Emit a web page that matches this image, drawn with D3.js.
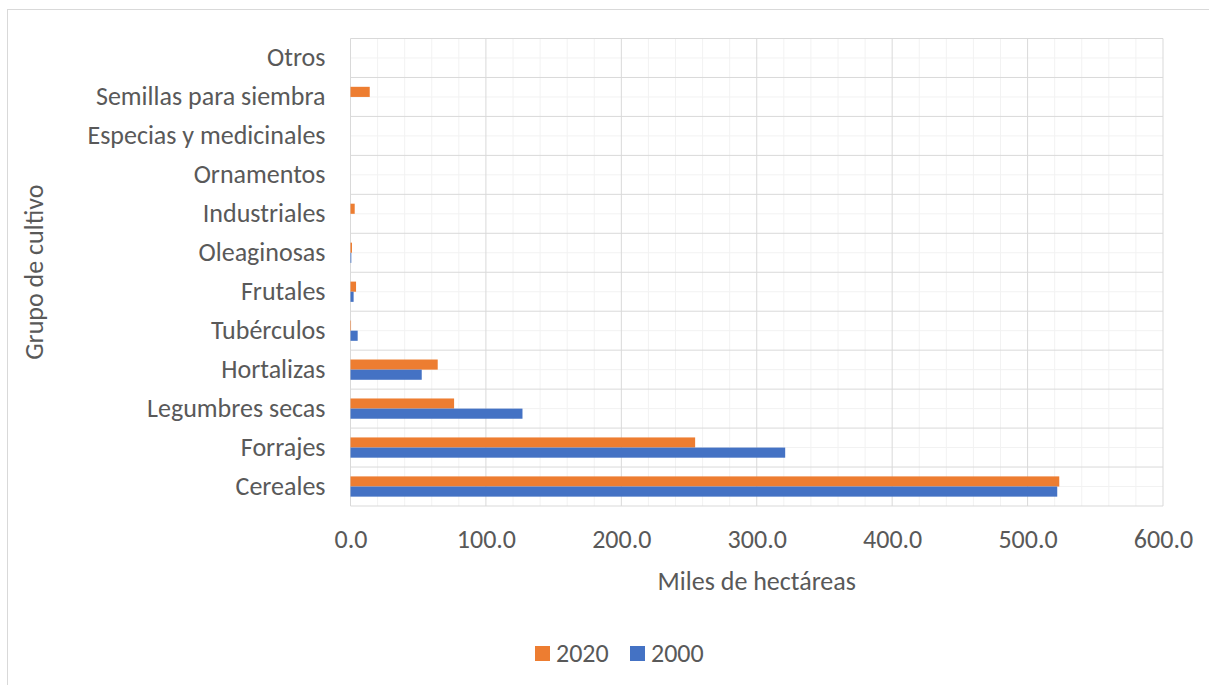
<!DOCTYPE html>
<html>
<head>
<meta charset="utf-8">
<script src="https://cdn.jsdelivr.net/npm/d3@7"></script>
<style>
  body { margin: 0; background: #fff; }
  svg { display: block; }
  svg text { font-family: Calibri, Carlito, Lato, "Open Sans", sans-serif; }
</style>
</head>
<body>
<script>
"use strict";

// categories listed bottom -> top as in the picture
const categories = [
  "Cereales", "Forrajes", "Legumbres secas", "Hortalizas", "Tubérculos",
  "Frutales", "Oleaginosas", "Industriales", "Ornamentos",
  "Especias y medicinales", "Semillas para siembra", "Otros"
];
const values2020 = [523.4, 254.5, 76.5, 64.4, 0.4, 4.1, 1.1, 3.1, 0, 0, 14.2, 0];
const values2000 = [521.9, 321.0, 127.0, 52.6, 5.3, 2.3, 0.6, 0, 0, 0, 0, 0];
const xTicks = [0, 100, 200, 300, 400, 500, 600];
const seriesNames = ["2020", "2000"];
const seriesColors = ["#ed7d31", "#4472c4"];

const width = 1209;
const height = 685;
const margin = { top: 38.5, right: 46, bottom: 179, left: 350.5 };
const fontSize = 26;
const textColor = "#595959";

const svg = d3.select("body").append("svg")
  .attr("width", width)
  .attr("height", height);

// chart frame
svg.append("rect")
  .attr("x", 7.5).attr("y", 9.5)
  .attr("width", width + 10).attr("height", height + 10)
  .attr("fill", "none")
  .attr("stroke", "#d9d9d9");

const x = d3.scaleLinear()
  .domain([0, 600])
  .range([margin.left, width - margin.right]);

// top category first in the domain so it sits at the top
const y = d3.scaleBand()
  .domain(categories.slice().reverse())
  .range([margin.top, height - margin.bottom]);

const bw = y.bandwidth();
const barH = bw * 0.26;

// minor gridlines
const grid = svg.append("g");
grid.selectAll("line.vminor")
  .data(d3.range(0, 601, 20).filter((v) => v % 100 !== 0))
  .join("line")
  .attr("x1", (d) => x(d)).attr("x2", (d) => x(d))
  .attr("y1", margin.top).attr("y2", height - margin.bottom)
  .attr("stroke", "#f2f2f2").attr("stroke-width", 1);

grid.selectAll("line.hminor")
  .data(categories)
  .join("line")
  .attr("x1", x(0)).attr("x2", x(600))
  .attr("y1", (d) => y(d) + bw / 2).attr("y2", (d) => y(d) + bw / 2)
  .attr("stroke", "#f2f2f2").attr("stroke-width", 1);

// major gridlines
grid.append("g").selectAll("line")
  .data(xTicks)
  .join("line")
  .attr("x1", (d) => x(d)).attr("x2", (d) => x(d))
  .attr("y1", margin.top).attr("y2", height - margin.bottom)
  .attr("stroke", "#d9d9d9").attr("stroke-width", 1);

grid.append("g").selectAll("line")
  .data(d3.range(categories.length + 1))
  .join("line")
  .attr("x1", x(0)).attr("x2", x(600))
  .attr("y1", (i) => margin.top + i * bw).attr("y2", (i) => margin.top + i * bw)
  .attr("stroke", "#d9d9d9").attr("stroke-width", 1);

// bars
const center = (c) => y(c) + bw / 2;

svg.append("g").selectAll("rect")
  .data(categories.map((c, i) => ({ c, v: values2020[i] })))
  .join("rect")
  .attr("x", x(0))
  .attr("y", (d) => center(d.c) - barH)
  .attr("width", (d) => x(d.v) - x(0))
  .attr("height", barH)
  .attr("fill", seriesColors[0]);

svg.append("g").selectAll("rect")
  .data(categories.map((c, i) => ({ c, v: values2000[i] })))
  .join("rect")
  .attr("x", x(0))
  .attr("y", (d) => center(d.c))
  .attr("width", (d) => x(d.v) - x(0))
  .attr("height", barH)
  .attr("fill", seriesColors[1]);

// axes
const xAxis = svg.append("g")
  .attr("transform", `translate(0,${height - margin.bottom})`)
  .call(d3.axisBottom(x).tickValues(xTicks).tickFormat(d3.format(".1f")).tickSize(0).tickPadding(24));
xAxis.select(".domain").remove();
xAxis.attr("font-size", fontSize).attr("font-family", null);
xAxis.selectAll("text").attr("fill", textColor);

const yAxis = svg.append("g")
  .attr("transform", `translate(${margin.left},0)`)
  .call(d3.axisLeft(y).tickSize(0).tickPadding(25));
yAxis.select(".domain").remove();
yAxis.attr("font-size", fontSize).attr("font-family", null);
yAxis.selectAll("text").attr("fill", textColor);

// axis titles
svg.append("text")
  .attr("x", (x(0) + x(600)) / 2)
  .attr("y", 590)
  .attr("text-anchor", "middle")
  .attr("font-size", fontSize)
  .attr("fill", textColor)
  .text("Miles de hectáreas");

svg.append("text")
  .attr("transform", `translate(43,${(margin.top + height - margin.bottom) / 2}) rotate(-90)`)
  .attr("text-anchor", "middle")
  .attr("font-size", fontSize)
  .attr("fill", textColor)
  .text("Grupo de cultivo");

// legend
const legend = svg.append("g").attr("transform", "translate(535,646)");
const legendX = [0, 95];
seriesNames.forEach((name, i) => {
  legend.append("rect")
    .attr("x", legendX[i]).attr("y", 0)
    .attr("width", 15).attr("height", 15)
    .attr("fill", seriesColors[i]);
  legend.append("text")
    .attr("x", legendX[i] + 21).attr("y", 16)
    .attr("font-size", fontSize)
    .attr("fill", textColor)
    .text(name);
});
</script>
</body>
</html>
